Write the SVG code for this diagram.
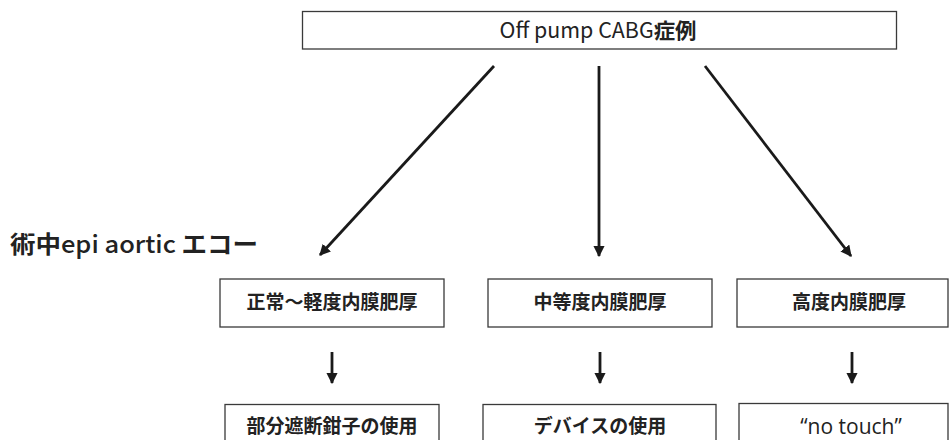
<svg xmlns="http://www.w3.org/2000/svg" width="952" height="440" viewBox="0 0 952 440">
<style>
.box{fill:#fff;stroke:#3a3a3a;stroke-width:1.3}
.lbl{font-family:"Noto Sans CJK JP","Liberation Sans",sans-serif;font-size:19px;font-weight:700;fill:#222;text-anchor:middle}
.conn{stroke:#1a1a1a;stroke-width:2.8;fill:none;marker-end:url(#ah)}
</style>
<defs>
<marker id="ah" viewBox="0 0 10 10" refX="9" refY="5" markerWidth="4" markerHeight="4" orient="auto" markerUnits="strokeWidth">
<path d="M0,0 L10,5 L0,10 Z" fill="#1a1a1a"/>
</marker>
</defs>
<rect width="952" height="440" fill="#fff"/>
<g id="top">
<rect class="box" x="302.5" y="11.5" width="594" height="37.5"/>
<text x="598" y="38" font-family="'Noto Sans CJK JP','Liberation Sans',sans-serif" font-size="21" font-weight="400" fill="#222" text-anchor="middle" textLength="197" lengthAdjust="spacingAndGlyphs">Off pump CABG<tspan font-weight="700">症例</tspan></text>
</g>
<g id="section-label">
<text x="10" y="253" font-family="'Noto Sans CJK JP','Liberation Sans',sans-serif" font-size="24" font-weight="500" fill="#222" textLength="248" lengthAdjust="spacingAndGlyphs"><tspan font-weight="700">術中</tspan>epi aortic <tspan font-weight="700">エコー</tspan></text>
</g>
<g id="n1">
<rect class="box" x="220" y="279" width="224" height="48"/>
<text class="lbl" x="332" y="309">正常～軽度内膜肥厚</text>
</g>
<g id="n2">
<rect class="box" x="488" y="279" width="224" height="48"/>
<text class="lbl" x="600" y="309">中等度内膜肥厚</text>
</g>
<g id="n3">
<rect class="box" x="737" y="279" width="211" height="48"/>
<text class="lbl" x="849" y="309">高度内膜肥厚</text>
</g>
<g id="r1">
<rect class="box" x="225" y="404.5" width="214" height="50"/>
<text class="lbl" x="332" y="433">部分遮断鉗子の使用</text>
</g>
<g id="r2">
<rect class="box" x="483" y="404.5" width="233" height="50"/>
<text class="lbl" x="600" y="433">デバイスの使用</text>
</g>
<g id="r3">
<rect class="box" x="739" y="403.5" width="209" height="50"/>
<text x="851" y="434" font-family="'Open Sans','Noto Sans',sans-serif" font-size="21" fill="#222" text-anchor="middle">“no touch”</text>
</g>
<g id="connectors">
<line class="conn" x1="494" y1="66" x2="320" y2="255"/>
<line class="conn" x1="599" y1="66" x2="599" y2="256"/>
<line class="conn" x1="705" y1="66" x2="851" y2="256"/>
<line class="conn" x1="332" y1="352" x2="332" y2="383"/>
<line class="conn" x1="600" y1="352" x2="600" y2="383"/>
<line class="conn" x1="852" y1="352" x2="852" y2="383"/>
</g>
</svg>
